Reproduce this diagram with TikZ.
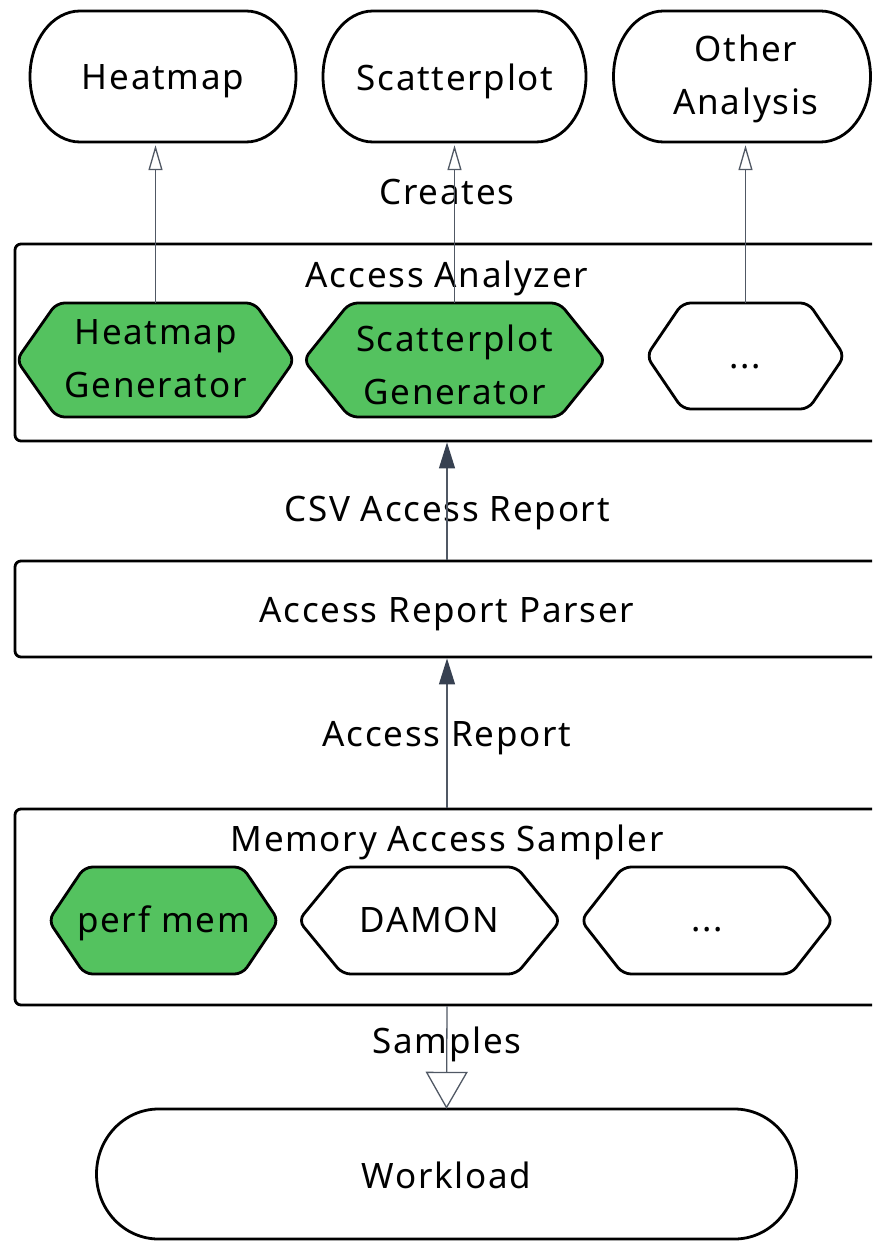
\documentclass[tikz,border=0pt]{standalone}
\usepackage{fontspec}
\setmainfont[LetterSpace=5]{Noto Sans}
\usetikzlibrary{arrows.meta}
\definecolor{hexgreen}{RGB}{84,194,95}
\definecolor{connline}{RGB}{80,88,100}
\definecolor{headfill}{RGB}{55,65,81}

% stadium: name, cx, cy, half width, half height, end radius (x), text position, text
\newcommand\stadiumnode[8]{%
  \draw[shapeline, fill=white] ({#2+#4-#6},{#3+#5})
    arc[start angle=90, end angle=-90, x radius=#6, y radius=#5]
    -- ({#2-#4+#6},{#3-#5})
    arc[start angle=270, end angle=90, x radius=#6, y radius=#5] -- cycle;
  \node[inner sep=0pt, minimum width={2*#4}, minimum height={2*#5}] (#1) at (#2,#3) {};
  \node[txt] (#1t) at #7 {#8};
}
% hexagon: name, cx, cy, half width, half height, inset, fill, text position, text
\newcommand\hexnode[9]{%
  \draw[shapeline, fill=#7, rounded corners=8pt] (#2,{#3+#5})
    -- ({#2+#4-#6},{#3+#5}) -- ({#2+#4},#3) -- ({#2+#4-#6},{#3-#5})
    -- ({#2-#4+#6},{#3-#5}) -- ({#2-#4},#3) -- ({#2-#4+#6},{#3+#5}) -- cycle;
  \node[inner sep=0pt, minimum width={2*#4}, minimum height={2*#5}] (#1) at (#2,#3) {};
  \node[txt] (#1t) at #8 {#9};
}

\begin{document}
\begin{tikzpicture}[x=1pt,y=1pt,
  shapeline/.style={draw=black, line width=2.8pt, line join=round},
  txt/.style={font=\fontsize{35}{53}\selectfont, align=center, inner sep=0pt},
  container/.style={shapeline, rounded corners=6pt, fill=white, minimum width=864, inner sep=0pt},
  lbl/.style={font=\fontsize{35}{53}\selectfont, inner sep=0pt},
  conn/.style={draw=connline, line width=1.3pt},
  openhead/.style={conn, -{Triangle[open, length=25pt, width=14pt, line width=1.3pt]}, shorten >=3pt},
  fullhead/.style={conn, -{Triangle[length=26pt, width=16pt, color=headfill, fill=headfill]}},
  bighead/.style={conn, -{Triangle[open, length=37pt, width=42pt, line width=1.3pt]}},
]
\useasboundingbox (0,-1241) rectangle (872,0);
\clip (0,-1241) rectangle (872,0);

% containers
\node[container, minimum height=197] (aa) at (447,-342.5) {};
\node[container, minimum height=96] (par) at (447,-609) {};
\node[container, minimum height=196] (ms) at (447,-907) {};

% container texts
\node[lbl] (aat) at (447,-278) {Access Analyzer};
\node[lbl] (part) at (447,-614.5) {Access Report Parser};
\node[lbl] (mst) at (447,-842) {Memory Access Sampler};

% outputs
\stadiumnode{hm}{163}{-76.5}{133}{65.5}{50}{(163,-81.5)}{Heatmap}
\stadiumnode{sp}{454.5}{-76.5}{131.5}{65.5}{50}{(455,-81)}{Scatterplot}
\stadiumnode{oa}{742}{-76.5}{128.5}{65.5}{50}{(746,-79)}{Other\\Analysis}

% analyzer generators
\hexnode{hg}{155.5}{-360}{139}{57}{40}{hexgreen}{(155.5,-359)}{Heatmap\\Generator}
\hexnode{sg}{454.5}{-360}{151}{57}{46}{hexgreen}{(454.5,-365)}{Scatterplot\\Generator}
\hexnode{ag}{745.5}{-356}{99}{53}{36}{white}{(745.5,-360.5)}{\vphantom{Ag}...}

% samplers
\hexnode{pm}{163.5}{-920.5}{115}{53.5}{36}{hexgreen}{(163.5,-923)}{perf mem}
\hexnode{dm}{429.5}{-920.5}{131}{53.5}{44}{white}{(429.5,-919.5)}{DAMON}
\hexnode{sd}{707}{-920.5}{126}{53.5}{42}{white}{(707,-923.5)}{\vphantom{Ag}...}

% workload
\stadiumnode{wl}{446.5}{-1174}{350}{65}{62}{(446.5,-1175)}{Workload}

% edge labels
\node[lbl] (lc) at (447,-192.5) {Creates};
\node[lbl] (lcsv) at (447,-513.5) {CSV Access Report};
\node[lbl] (lar) at (447,-738.5) {Access Report};
\node[lbl] (ls) at (447,-1044) {Samples};

% connectors
\draw[openhead] (hg.north) -- (hg.north |- hm.south);
\draw[openhead] (sg.north) -- (sg.north |- sp.south);
\draw[openhead] (ag.north) -- (ag.north |- oa.south);
\draw[fullhead] (par.north) -- (aa.south);
\draw[fullhead] (ms.north) -- (par.south);
\draw[bighead] (ms.south) -- (wl.north);
\end{tikzpicture}
\end{document}
